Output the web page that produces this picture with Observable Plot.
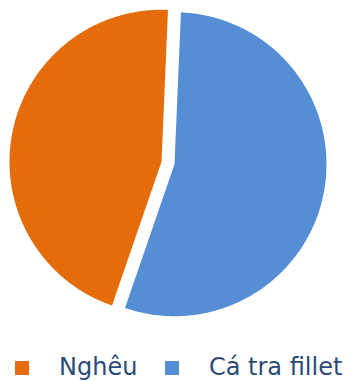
<!DOCTYPE html>
<html>
<head>
<meta charset="utf-8">
<script src="https://cdn.jsdelivr.net/npm/d3@7"></script>
<script src="https://cdn.jsdelivr.net/npm/@observablehq/plot@0.6"></script>
<style>
  html, body { margin: 0; padding: 0; background: #fff; }
  #wrap { position: relative; width: 346px; height: 381px; overflow: hidden; }
  #legend { position: absolute; left: 0; top: 340px; width: 346px; height: 41px;
            font-family: "DejaVu Sans", Verdana, sans-serif; font-size: 24px; color: #2B4A78; }
  .sw { position: absolute; width: 14px; height: 14px; top: 21px; }
  .lb { position: absolute; top: 14px; line-height: 1; white-space: nowrap; }
</style>
</head>
<body>
<div id="wrap"><div id="chart"></div><div id="legend"></div></div>
<script>
const categories = ["Nghêu", "Cá tra fillet"];
const values = [45.4, 54.6];
const colors = ["#E46C0A", "#558ED5"];

const W = 346, H = 340;
const cx = 167.5, cy = 162.5, R = 152, explode = 6.6;
const start = 199 * Math.PI / 180;

const arcs = d3.pie().sort(null).startAngle(start).endAngle(start + 2 * Math.PI)(values);
const pts = [];
arcs.forEach((a, i) => {
  const mid = (a.startAngle + a.endAngle) / 2;
  const ox = cx + explode * Math.sin(mid), oy = cy - explode * Math.cos(mid);
  const n = 200;
  pts.push({cat: categories[i], x: ox, y: oy});
  for (let k = 0; k <= n; k++) {
    const t = a.startAngle + (a.endAngle - a.startAngle) * k / n;
    pts.push({cat: categories[i], x: ox + R * Math.sin(t), y: oy - R * Math.cos(t)});
  }
  pts.push({cat: categories[i], x: ox, y: oy});
});

const chart = Plot.plot({
  width: W, height: H,
  margin: 0,
  x: {domain: [0, W], range: [0, W], axis: null},
  y: {domain: [0, H], range: [0, H], axis: null},
  color: {domain: categories, range: colors},
  marks: [
    Plot.line(pts, {x: "x", y: "y", z: "cat", fill: "cat", stroke: "none", curve: "linear"})
  ]
});
document.getElementById("chart").appendChild(chart);

const legend = document.getElementById("legend");
const lx = [15, 165], tx = [59, 209];
categories.forEach((c, i) => {
  const s = document.createElement("div");
  s.className = "sw"; s.style.left = lx[i] + "px"; s.style.background = colors[i];
  legend.appendChild(s);
  const t = document.createElement("div");
  t.className = "lb"; t.style.left = tx[i] + "px"; t.style.top = "15px"; t.textContent = c;
  legend.appendChild(t);
});
</script>
</body>
</html>
